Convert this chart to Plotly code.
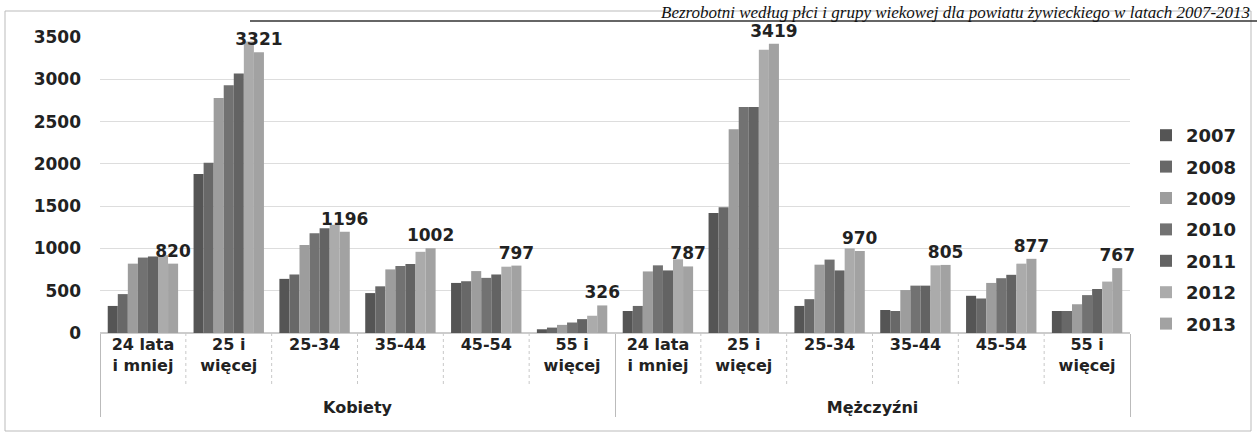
import plotly.graph_objects as go

W, H = 1257, 436
L, R, T, B = 100, 127, 37, 103
PW, PH = W - L - R, H - T - B

genders = ["Kobiety"] * 6 + ["Mężczyźni"] * 6
ages = ["24 lata<br>i mniej<br> ", "25 i<br>więcej", "25-34", "35-44", "45-54", "55 i<br>więcej"] * 2
years = ["2007", "2008", "2009", "2010", "2011", "2012", "2013"]

v2007 = [320, 1880, 640, 472, 592, 44, 260, 1420, 320, 272, 440, 260]
v2008 = [460, 2012, 692, 552, 612, 64, 320, 1488, 400, 260, 408, 260]
v2009 = [820, 2780, 1040, 752, 732, 96, 728, 2408, 808, 508, 592, 340]
v2010 = [892, 2928, 1180, 792, 652, 124, 800, 2672, 868, 560, 648, 448]
v2011 = [905, 3068, 1240, 816, 692, 164, 740, 2672, 740, 560, 688, 520]
v2012 = [920, 3448, 1280, 960, 784, 204, 872, 3350, 1000, 800, 820, 608]
v2013 = [820, 3321, 1196, 1002, 797, 326, 787, 3419, 970, 805, 877, 767]
series = [v2007, v2008, v2009, v2010, v2011, v2012, v2013]

colors = ["#555555", "#686868", "#9d9d9d", "#727272", "#636363", "#ababab", "#a2a2a2"]

FONT = "DejaVu Sans"
TXT = "#222222"

fig = go.Figure()
for i, (yr, vals) in enumerate(zip(years, series)):
    last = i == len(years) - 1
    fig.add_trace(go.Bar(
        x=[genders, ages], y=vals, name=yr, legendgroup=yr,
        marker=dict(color=colors[i], line=dict(width=0)),
        text=[str(v) for v in vals] if last else None,
        textposition="outside" if last else "none",
        constraintext="none",
        cliponaxis=False,
        textfont=dict(family=FONT, size=17, color=TXT, weight="bold"),
    ))


def px(x):
    return (x - L) / PW


def py(y):
    return (H - B - y) / PH


shapes = [
    dict(type="rect", xref="paper", yref="paper",
         x0=px(5), x1=px(1251), y0=py(431), y1=py(11),
         line=dict(color="#bbbbbb", width=1), fillcolor="rgba(0,0,0,0)", layer="below"),
    dict(type="line", xref="paper", yref="paper",
         x0=px(250), x1=px(1257), y0=py(21), y1=py(21),
         line=dict(color="#333333", width=1.5)),
]
n_cat = len(ages)
for k in range(1, n_cat):
    if k == n_cat // 2:
        continue
    shapes.append(dict(type="line", xref="paper", yref="paper",
                       x0=k / n_cat, x1=k / n_cat, y0=0, y1=py(385),
                       line=dict(color="#c8c8c8", width=1, dash="dot")))

fig.update_layout(
    width=W, height=H,
    margin=dict(l=L, r=R, t=T, b=B),
    paper_bgcolor="white", plot_bgcolor="white",
    barmode="group", bargap=0.18, bargroupgap=0,
    font=dict(family=FONT, size=15, color=TXT),
    showlegend=True,
    legend=dict(x=px(1146), y=py(117), xanchor="left", yanchor="top",
                font=dict(family=FONT, size=18, color=TXT, weight="bold"),
                itemwidth=30, tracegroupgap=5, bgcolor="rgba(0,0,0,0)"),
    xaxis=dict(
        type="multicategory", showgrid=False, showline=False,
        tickfont=dict(family=FONT, size=16, color=TXT, weight="bold"),
        showdividers=True, dividercolor="#bbbbbb", dividerwidth=1,
        ticks="",
    ),
    yaxis=dict(
        range=[0, 3500], dtick=500, showgrid=True, gridcolor="#dddddd",
        zeroline=True, zerolinecolor="#cccccc", showline=False,
        tickfont=dict(family=FONT, size=17, color=TXT, weight="bold"),
        ticks="", ticklabelstandoff=18,
    ),
    shapes=shapes,
    annotations=[
        dict(text="<i>Bezrobotni według płci i grupy wiekowej dla powiatu żywieckiego w latach 2007-2013</i>",
             xref="paper", yref="paper", x=px(1252), y=py(1), xanchor="right", yanchor="top",
             showarrow=False, font=dict(family="Liberation Serif", size=17, color="#111111")),
    ],
)

fig.write_html("out.html", config={"displayModeBar": False},
               post_script="document.body.style.margin='0';")
